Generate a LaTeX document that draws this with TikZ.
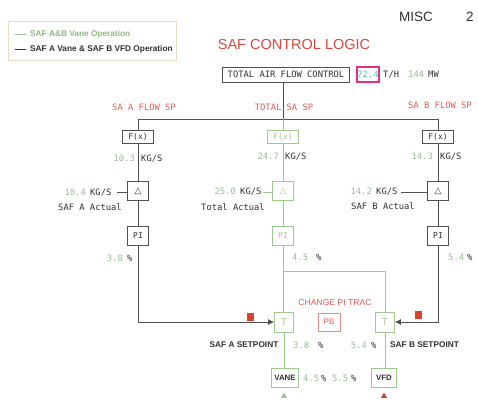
\documentclass[tikz,border=0pt]{standalone}
\usepackage{fontspec}
\setmainfont{Liberation Sans}
\newfontfamily\monof{DejaVu Sans Mono}
\newfontfamily\dvs{DejaVu Sans}
\usetikzlibrary{arrows.meta,shapes.geometric}
\definecolor{kline}{HTML}{505050}
\definecolor{gline}{HTML}{9CCB8E}
\definecolor{gval}{HTML}{94BF94}
\definecolor{txt}{HTML}{303030}
\definecolor{redt}{HTML}{E2453C}
\definecolor{redl}{HTML}{E35A55}
\definecolor{magb}{HTML}{E0307F}
\definecolor{cyv}{HTML}{5CC0A4}
\definecolor{legb}{HTML}{E6DCC2}
\definecolor{redsq}{HTML}{D8432E}
\begin{document}
\begin{tikzpicture}[x=1pt,y=-1pt,
  mono/.style={font=\monof\fontsize{8.8}{10}\selectfont, inner sep=0pt},
  val/.style={mono, text=gval, anchor=base east},
  valw/.style={mono, text=gval, anchor=base west},
  unit/.style={mono, text=txt, anchor=base west},
  lbl/.style={mono, text=txt, anchor=base},
  redlbl/.style={mono, text=redl, anchor=base},
  kbox/.style={draw=kline, line width=0.8pt, inner sep=0pt, text=txt},
  gbox/.style={draw=gline, line width=0.8pt, inner sep=0pt, text=gline},
  fxbox/.style={minimum width=31, minimum height=13, font=\monof\fontsize{8}{9}\selectfont},
  dbox/.style={minimum width=21, minimum height=19, font=\dvs\fontsize{9}{10}\selectfont},
  pibox/.style={minimum width=21, minimum height=19, font=\monof\fontsize{8}{9}\selectfont},
  tbox/.style={gbox, minimum width=19, minimum height=20, font=\fontsize{10}{11}\selectfont},
  kl/.style={draw=kline, line width=0.8pt},
  gl/.style={draw=gline, line width=0.8pt},
  sp/.style={font=\bfseries\fontsize{8.3}{10}\selectfont, text=txt, inner sep=0pt},
  legtxt/.style={font=\bfseries\fontsize{8.3}{9}\selectfont, inner sep=0pt, anchor=west},
  rsq/.style={fill=redsq, minimum width=7, minimum height=8, inner sep=0pt},
  tri/.style={regular polygon, regular polygon sides=3, minimum size=7, inner sep=0pt}
]
\useasboundingbox (0,0) rectangle (478,405);
% legend
\node[draw=legb, line width=0.8pt, minimum width=168, minimum height=39, anchor=north west, inner sep=0pt] (legend) at (8,21) {};
\draw[gl] (15,34) -- (26,34);
\draw[kl, draw=txt] (15,49) -- (26,49);
\node[legtxt, text=gline!90!black] (leg1) at (30,34) {SAF A\&B Vane Operation};
\node[legtxt, text=txt] (leg2) at (30,49) {SAF A Vane \& SAF B VFD Operation};
% header
\node[anchor=base west, font=\fontsize{13.5}{15}\selectfont, text=txt, inner sep=0pt] (misc) at (399,21) {MISC};
\node[anchor=base west, font=\fontsize{13.5}{15}\selectfont, text=txt, inner sep=0pt] (pg) at (466,21) {2};
\node[anchor=base, font=\fontsize{14.5}{17}\selectfont, text=redt, inner sep=0pt] (title) at (294,49) {SAF CONTROL LOGIC};
% total air flow
\node[kbox, minimum width=127, minimum height=15, font=\monof\fontsize{8.8}{10}\selectfont] (tafc) at (286,74.5) {TOTAL AIR FLOW CONTROL};
\node[draw=magb, line width=1.2pt, minimum width=22, minimum height=15, inner sep=0pt, text=cyv, font=\monof\fontsize{8.8}{10}\selectfont] (flow) at (368,74.5) {72.4};
\node[unit] (th) at (383,77.5) {T/H};
\node[valw] (mwv) at (408,77.5) {144};
\node[unit] (mwu) at (428,77.5) {MW};
% bus
\coordinate (busL) at (138,119);
\coordinate (busC) at (283,119);
\coordinate (busR) at (438,119);
\draw[kl] (tafc.south -| busC) -- (busC);
\draw[kl] (busL) -- (busR);
\node[redlbl] (spa) at (144,110) {SA A FLOW SP};
\node[redlbl] (spc) at (284,110) {TOTAL SA SP};
\node[redlbl] (spb) at (440,108.5) {SA B FLOW SP};
% F(x)
\node[kbox, fxbox] (fxa) at (138,137) {F(x)};
\node[gbox, fxbox] (fxc) at (283,137) {F(x)};
\node[kbox, fxbox] (fxb) at (438,137) {F(x)};
\draw[kl] (busL) -- (fxa.north);
\draw[gl] (busC) -- (fxc.north);
\draw[kl] (busR) -- (fxb.north);
\node[val] (v1a) at (135,161) {10.3};
\node[unit] (u1a) at (141,161) {KG/S};
\node[val] (v1c) at (279,159.5) {24.7};
\node[unit] (u1c) at (285,159.5) {KG/S};
\node[val] (v1b) at (433,159.5) {14.3};
\node[unit] (u1b) at (440,159.5) {KG/S};
% delta
\node[kbox, dbox] (da) at (138,191) {△};
\node[gbox, dbox] (dc) at (283,191) {△};
\node[kbox, dbox] (db) at (438,191) {△};
\draw[kl] (fxa) -- (da);
\draw[gl] (fxc) -- (dc);
\draw[kl] (fxb) -- (db);
\node[val] (v2a) at (86,195.5) {10.4};
\node[unit] (u2a) at (90,195.5) {KG/S};
\coordinate (ina) at (117,192);
\draw[kl] (ina) -- (da.west |- ina);
\node[lbl] (acta) at (90,210) {SAF A Actual};
\node[val] (v2c) at (236,194.5) {25.0};
\node[unit] (u2c) at (240,194.5) {KG/S};
\coordinate (inc) at (263,192);
\draw[gl] (inc) -- (dc.west |- inc);
\node[lbl] (actc) at (233,210) {Total Actual};
\node[val] (v2b) at (372,194.5) {14.2};
\node[unit] (u2b) at (376,194.5) {KG/S};
\coordinate (inb) at (401,192);
\draw[kl] (inb) -- (db.west |- inb);
\node[lbl] (actb) at (383,209) {SAF B Actual};
% PI
\node[kbox, pibox] (pia) at (138,236) {PI};
\node[gbox, pibox] (pic) at (283,236) {PI};
\node[kbox, pibox] (pib) at (438,236) {PI};
\draw[kl] (da) -- (pia);
\draw[gl] (dc) -- (pic);
\draw[kl] (db) -- (pib);
\node[val] (v3a) at (123,261) {3.8};
\node[unit] (u3a) at (127,261) {\%};
\node[valw] (v3c) at (292,260) {4.5};
\node[unit] (u3c) at (316,260) {\%};
\node[valw] (v3b) at (448,260) {5.4};
\node[unit] (u3b) at (467,260) {\%};
% T blocks
\node[tbox] (ta) at (284,322) {T};
\node[tbox] (tb) at (385,322) {T};
\draw[gl] (pic.south) -- (pic.south |- ta.north);
\coordinate (brC) at (283,271);
\coordinate (brR) at (385,271);
\draw[gl] (brC) -- (brR) -- (tb.north);
\draw[kl, -{Latex[length=6,width=6]}] (pia.south) |- (ta.west);
\draw[kl, -{Latex[length=6,width=6]}] (pib.south) |- (tb.east);
\node[rsq] (rqa) at (250,317) {};
\node[rsq] (rqb) at (418,315) {};
\node[anchor=base, font=\fontsize{8.6}{10}\selectfont, text=redl, inner sep=0pt] (chg) at (335,305) {CHANGE PI TRAC};
\node[draw=redl!70, line width=0.9pt, minimum width=22, minimum height=18, inner sep=0pt, text=redl, font=\fontsize{8}{9}\selectfont] (pb) at (329,322) {PB};
\node[sp, anchor=base] (spta) at (244,347.5) {SAF A SETPOINT};
\node[valw] (v4a) at (293,348) {3.8};
\node[unit] (u4a) at (318,348) {\%};
\node[val] (v4b) at (367,348) {5.4};
\node[unit] (u4b) at (371,348) {\%};
\node[sp, anchor=base west] (sptb) at (390,347.5) {SAF B SETPOINT};
% final elements
\node[gbox, text=txt, minimum width=27, minimum height=19, font=\bfseries\fontsize{7.8}{9}\selectfont] (vane) at (285,377.5) {VANE};
\node[gbox, text=txt, minimum width=25, minimum height=19, font=\bfseries\fontsize{7.8}{9}\selectfont] (vfd) at (384,377.5) {VFD};
\draw[gl] (ta.south) -- (ta.south |- vane.north);
\draw[gl] (tb.south) -- (tb.south |- vfd.north);
\node[valw] (v5a) at (303,381) {4.5};
\node[unit] (u5a) at (321,381) {\%};
\node[valw] (v5b) at (332,381) {5.5};
\node[unit] (u5b) at (351,381) {\%};
\node[tri, fill=gline] (tra) at (284,396) {};
\node[tri, fill=redsq] (trb) at (384,396) {};
\end{tikzpicture}
\end{document}
